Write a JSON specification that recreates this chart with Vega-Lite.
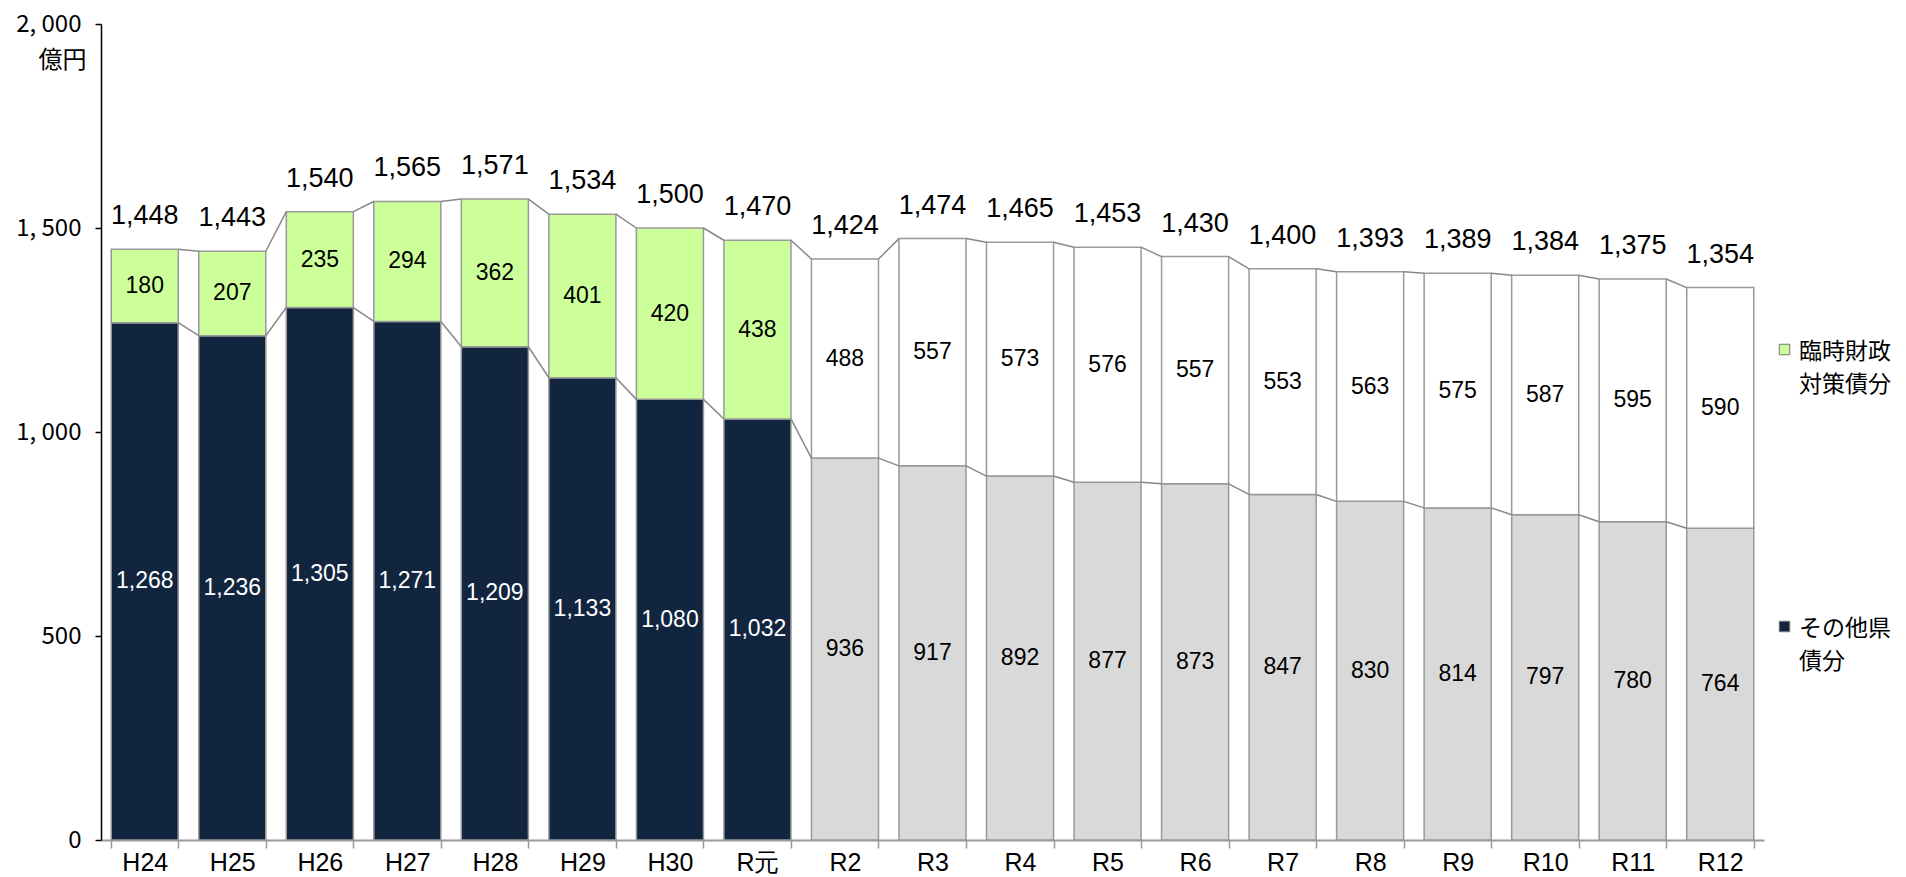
{
  "$schema": "https://vega.github.io/schema/vega-lite/v6.json",
  "autosize": {"type": "none"},
  "padding": {"left": 101, "top": 24, "right": 142, "bottom": 37},
  "width": 1663,
  "height": 816,
  "config": {
    "view": {"stroke": null},
    "font": "Liberation Sans",
    "axisY": {
      "titleAngle": 0,
      "titleX": -39,
      "titleY": 36,
      "titleAlign": "center",
      "titleBaseline": "middle",
      "titleFont": "Noto Sans CJK JP",
      "titleFontSize": 24,
      "titleFontWeight": "normal",
      "titleColor": "black",
      "tickCount": 5,
      "labelExpr": "replace(datum.label, ',', ', ')",
      "labelFont": "Noto Sans CJK JP",
      "labelFontSize": 24,
      "labelColor": "black",
      "labelPadding": 14,
      "tickSize": 6,
      "tickColor": "black",
      "tickWidth": 1.5,
      "domainColor": "black",
      "domainWidth": 1.5,
      "grid": false
    },
    "axisX": {
      "labelAngle": 0,
      "labelFont": "Liberation Sans",
      "labelFontSize": 25,
      "labelColor": "black",
      "tickBand": "extent",
      "tickSize": 8,
      "tickColor": "#999",
      "tickWidth": 1.5,
      "domainColor": "#999",
      "domainWidth": 2,
      "labelPadding": 2,
      "grid": false
    }
  },
  "data": {
    "values": [
      {"year": "H24", "fy": 2012, "s": "その他県債分", "k": "その他県債分", "v": 1268},
      {"year": "H24", "fy": 2012, "s": "臨時財政対策債分", "k": "臨時財政対策債分", "v": 180},
      {"year": "H25", "fy": 2013, "s": "その他県債分", "k": "その他県債分", "v": 1236},
      {"year": "H25", "fy": 2013, "s": "臨時財政対策債分", "k": "臨時財政対策債分", "v": 207},
      {"year": "H26", "fy": 2014, "s": "その他県債分", "k": "その他県債分", "v": 1305},
      {"year": "H26", "fy": 2014, "s": "臨時財政対策債分", "k": "臨時財政対策債分", "v": 235},
      {"year": "H27", "fy": 2015, "s": "その他県債分", "k": "その他県債分", "v": 1271},
      {"year": "H27", "fy": 2015, "s": "臨時財政対策債分", "k": "臨時財政対策債分", "v": 294},
      {"year": "H28", "fy": 2016, "s": "その他県債分", "k": "その他県債分", "v": 1209},
      {"year": "H28", "fy": 2016, "s": "臨時財政対策債分", "k": "臨時財政対策債分", "v": 362},
      {"year": "H29", "fy": 2017, "s": "その他県債分", "k": "その他県債分", "v": 1133},
      {"year": "H29", "fy": 2017, "s": "臨時財政対策債分", "k": "臨時財政対策債分", "v": 401},
      {"year": "H30", "fy": 2018, "s": "その他県債分", "k": "その他県債分", "v": 1080},
      {"year": "H30", "fy": 2018, "s": "臨時財政対策債分", "k": "臨時財政対策債分", "v": 420},
      {"year": "R元", "fy": 2019, "s": "その他県債分", "k": "その他県債分", "v": 1032},
      {"year": "R元", "fy": 2019, "s": "臨時財政対策債分", "k": "臨時財政対策債分", "v": 438},
      {"year": "R2", "fy": 2020, "s": "その他県債分", "k": "その他県債分(見込)", "v": 936},
      {"year": "R2", "fy": 2020, "s": "臨時財政対策債分", "k": "臨時財政対策債分(見込)", "v": 488},
      {"year": "R3", "fy": 2021, "s": "その他県債分", "k": "その他県債分(見込)", "v": 917},
      {"year": "R3", "fy": 2021, "s": "臨時財政対策債分", "k": "臨時財政対策債分(見込)", "v": 557},
      {"year": "R4", "fy": 2022, "s": "その他県債分", "k": "その他県債分(見込)", "v": 892},
      {"year": "R4", "fy": 2022, "s": "臨時財政対策債分", "k": "臨時財政対策債分(見込)", "v": 573},
      {"year": "R5", "fy": 2023, "s": "その他県債分", "k": "その他県債分(見込)", "v": 877},
      {"year": "R5", "fy": 2023, "s": "臨時財政対策債分", "k": "臨時財政対策債分(見込)", "v": 576},
      {"year": "R6", "fy": 2024, "s": "その他県債分", "k": "その他県債分(見込)", "v": 873},
      {"year": "R6", "fy": 2024, "s": "臨時財政対策債分", "k": "臨時財政対策債分(見込)", "v": 557},
      {"year": "R7", "fy": 2025, "s": "その他県債分", "k": "その他県債分(見込)", "v": 847},
      {"year": "R7", "fy": 2025, "s": "臨時財政対策債分", "k": "臨時財政対策債分(見込)", "v": 553},
      {"year": "R8", "fy": 2026, "s": "その他県債分", "k": "その他県債分(見込)", "v": 830},
      {"year": "R8", "fy": 2026, "s": "臨時財政対策債分", "k": "臨時財政対策債分(見込)", "v": 563},
      {"year": "R9", "fy": 2027, "s": "その他県債分", "k": "その他県債分(見込)", "v": 814},
      {"year": "R9", "fy": 2027, "s": "臨時財政対策債分", "k": "臨時財政対策債分(見込)", "v": 575},
      {"year": "R10", "fy": 2028, "s": "その他県債分", "k": "その他県債分(見込)", "v": 797},
      {"year": "R10", "fy": 2028, "s": "臨時財政対策債分", "k": "臨時財政対策債分(見込)", "v": 587},
      {"year": "R11", "fy": 2029, "s": "その他県債分", "k": "その他県債分(見込)", "v": 780},
      {"year": "R11", "fy": 2029, "s": "臨時財政対策債分", "k": "臨時財政対策債分(見込)", "v": 595},
      {"year": "R12", "fy": 2030, "s": "その他県債分", "k": "その他県債分(見込)", "v": 764},
      {"year": "R12", "fy": 2030, "s": "臨時財政対策債分", "k": "臨時財政対策債分(見込)", "v": 590}
    ]
  },
  "encoding": {
    "x": {
      "field": "year",
      "type": "nominal",
      "sort": ["H24","H25","H26","H27","H28","H29","H30","R元","R2","R3","R4","R5","R6","R7","R8","R9","R10","R11","R12"],
      "scale": {"paddingInner": 0.234, "paddingOuter": 0.117},
      "title": null
    }
  },
  "layer": [
    {
      "mark": {"type": "bar", "stroke": "#999", "strokeWidth": 1.5},
      "encoding": {
        "y": {
          "aggregate": "sum",
          "field": "v",
          "type": "quantitative",
          "stack": "zero",
          "title": "億円",
          "scale": {"domain": [0, 2000], "nice": false}
        },
        "color": {
          "field": "k",
          "type": "nominal",
          "scale": {
            "domain": ["臨時財政対策債分", "その他県債分", "臨時財政対策債分(見込)", "その他県債分(見込)"],
            "range": ["#CCFF99", "#12253F", "#FFFFFF", "#D9D9D9"]
          },
          "legend": {
            "orient": "none",
            "legendX": 1672,
            "legendY": 314,
            "values": ["臨時財政対策債分", "その他県債分"],
            "title": null,
            "symbolType": "square",
            "symbolSize": 110,
            "symbolStrokeColor": "#777",
            "symbolStrokeWidth": 1,
            "labelFont": "Noto Sans CJK JP",
            "labelFontSize": 23,
            "labelColor": "black",
            "labelExpr": "datum.value == '臨時財政対策債分' ? ['臨時財政', '対策債分'] : ['その他県', '債分']",
            "labelBaseline": "top",
            "labelLimit": 300,
            "labelOffset": 3,
            "rowPadding": 218,
            "encode": {"labels": {"update": {"dy": {"value": -9}, "lineHeight": {"value": 33}}}}
          }
        },
        "order": {"field": "k", "sort": "ascending"}
      }
    },
    {
      "mark": {"type": "text", "fontSize": 23, "font": "Liberation Sans", "baseline": "middle"},
      "encoding": {
        "y": {"field": "v", "type": "quantitative", "stack": "zero", "bandPosition": 0.5, "title": "億円"},
        "order": {"field": "k", "sort": "ascending"},
        "detail": {"field": "k"},
        "text": {"field": "v", "type": "quantitative", "format": ","},
        "color": {"condition": {"test": "datum.k === 'その他県債分'", "value": "white"}, "value": "black"}
      }
    },
    {
      "transform": [{"aggregate": [{"op": "sum", "field": "v", "as": "t"}], "groupby": ["year", "fy"]}],
      "mark": {"type": "text", "fontSize": 27, "font": "Liberation Sans", "baseline": "middle", "dy": -33, "color": "black"},
      "encoding": {
        "y": {"field": "t", "type": "quantitative", "title": "億円"},
        "text": {"field": "t", "type": "quantitative", "format": ","}
      }
    },
    {
      "transform": [
        {"aggregate": [{"op": "sum", "field": "v", "as": "t"}], "groupby": ["year", "fy"]},
        {"window": [{"op": "lead", "field": "year", "as": "ny"}, {"op": "lead", "field": "t", "as": "nt"}], "sort": [{"field": "fy", "order": "ascending"}]},
        {"filter": "datum.ny != null"}
      ],
      "mark": {"type": "rule", "color": "#888", "strokeWidth": 1.5},
      "encoding": {
        "x": {"field": "year", "type": "nominal", "bandPosition": 1},
        "x2": {"field": "ny", "bandPosition": 0},
        "y": {"field": "t", "type": "quantitative", "title": "億円"},
        "y2": {"field": "nt"}
      }
    },
    {
      "transform": [
        {"filter": "datum.s == 'その他県債分'"},
        {"window": [{"op": "lead", "field": "year", "as": "ny"}, {"op": "lead", "field": "v", "as": "nv"}], "sort": [{"field": "fy", "order": "ascending"}]},
        {"filter": "datum.ny != null"}
      ],
      "mark": {"type": "rule", "color": "#888", "strokeWidth": 1.5},
      "encoding": {
        "x": {"field": "year", "type": "nominal", "bandPosition": 1},
        "x2": {"field": "ny", "bandPosition": 0},
        "y": {"field": "v", "type": "quantitative", "title": "億円"},
        "y2": {"field": "nv"}
      }
    }
  ]
}
